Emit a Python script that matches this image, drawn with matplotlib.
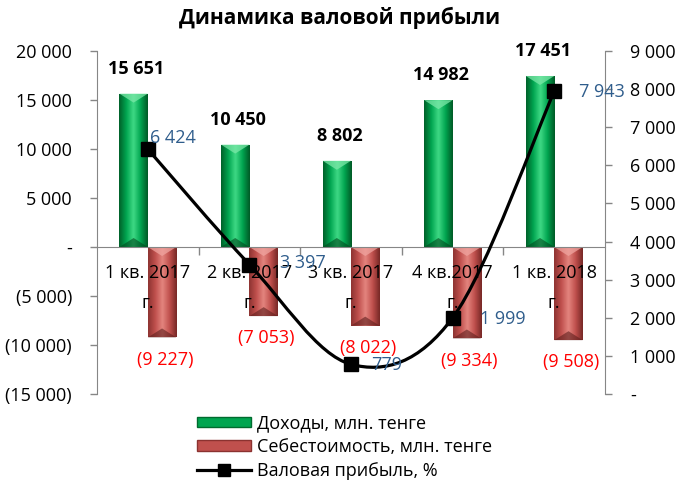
import numpy as np
import matplotlib
matplotlib.use("Agg")
import matplotlib.pyplot as plt
from matplotlib.path import Path
from matplotlib.patches import PathPatch, Patch, Polygon
from matplotlib.lines import Line2D
from matplotlib.colors import LinearSegmentedColormap

plt.rcParams["font.family"] = ["Open Sans", "DejaVu Sans"]

# data
quarter_lines = [("1 кв. 2017", "г."), ("2 кв. 2017", "г."), ("3 кв. 2017", "г."),
                 ("4 кв.2017", "г."), ("1 кв. 2018", "г.")]
revenue = [15651, 10450, 8802, 14982, 17451]
cost = [-9227, -7053, -8022, -9334, -9508]
gross_profit = [6424, 3397, 779, 1999, 7943]

# label offsets for the line values (pixels), tuned by eye
gp_label_offsets = [(2, 11), (31, 2), (20, -1), (27, -1), (25, -1)]

FS = 13
GREY = "#868686"
BLUE = "#2F5D8C"


def fmt_num(v):
    if v == 0:
        return "-"
    s = f"{abs(int(v)):,}".replace(",", " ")
    return f"({s})" if v < 0 else s


def gradient_bars(ax, bars, cmap, light, dark, bevel):
    grad = np.linspace(0, 1, 64).reshape(1, -1)
    for b in bars:
        x0, y0 = b.get_x(), b.get_y()
        w, h = b.get_width(), b.get_height()
        im = ax.imshow(grad, cmap=cmap, aspect="auto", interpolation="bicubic",
                       extent=(x0, x0 + w, y0, y0 + h), zorder=2)
        im.set_clip_path(b)
        top, bot = max(y0, y0 + h), min(y0, y0 + h)
        xc = x0 + w / 2
        ax.add_patch(Polygon([(x0, top), (x0 + w, top), (xc, top - bevel)],
                             closed=True, color=light, alpha=0.75, lw=0, zorder=2.1))
        ax.add_patch(Polygon([(x0, bot), (x0 + w, bot), (xc, bot + bevel)],
                             closed=True, color=dark, alpha=0.6, lw=0, zorder=2.1))


def smooth_path(xs, ys):
    # Excel-like smoothed line: Catmull-Rom segments as cubic Beziers
    pts = np.column_stack([xs, ys]).astype(float)
    n = len(pts)
    verts = [pts[0]]
    codes = [Path.MOVETO]
    for i in range(n - 1):
        p0 = pts[i - 1] if i > 0 else pts[i]
        p1, p2 = pts[i], pts[i + 1]
        p3 = pts[i + 2] if i + 2 < n else pts[i + 1]
        c1 = p1 + (p2 - p0) / 6
        c2 = p2 - (p3 - p1) / 6
        verts += [c1, c2, p2]
        codes += [Path.CURVE4] * 3
    return Path(verts, codes)


fig = plt.figure(figsize=(6.79, 4.88), dpi=100)
ax = fig.add_axes([0.1429, 0.1926, 0.7482, 0.7029])

x = np.arange(len(quarter_lines))
w = 0.28
ax.set_xlim(-0.5, len(x) - 0.5)
ax.set_ylim(-15000, 20000)
bevel = 9 * 35000 / (0.7029 * 488)  # ~9 px in data units

green_cmap = LinearSegmentedColormap.from_list(
    "g", ["#00612A", "#00A550", "#3FD985", "#00A550", "#005A26"])
red_cmap = LinearSegmentedColormap.from_list(
    "r", ["#8E3432", "#C0504D", "#E4857F", "#C0504D", "#772826"])

gbars = ax.bar(x - w / 2, revenue, w, color="#00A550", zorder=1)
rbars = ax.bar(x + w / 2, cost, w, color="#C0504D", zorder=1)
gradient_bars(ax, gbars, green_cmap, "#7CE8A8", "#004A1E", bevel)
gradient_bars(ax, rbars, red_cmap, "#F0A5A0", "#5E1F1D", bevel)

for xi, v in zip(x - w / 2, revenue):
    ax.annotate(fmt_num(v), (xi, v), xytext=(2, 18), textcoords="offset points",
                ha="center", va="center", fontsize=FS, fontweight="bold", color="black")
for xi, v in zip(x + w / 2, cost):
    ax.annotate(fmt_num(v), (xi, v), xytext=(2, -16), textcoords="offset points",
                ha="center", va="center", fontsize=FS, color="red")

ax.set_yticks(np.arange(-15000, 20001, 5000))
ax.set_yticklabels([fmt_num(v) for v in np.arange(-15000, 20001, 5000)], fontsize=FS)
ax.tick_params(axis="y", length=5, width=1, color=GREY, pad=13)

# category axis sits at zero
ax.spines["bottom"].set_position(("data", 0))
ax.spines["bottom"].set_color(GREY)
ax.spines["left"].set_color(GREY)
ax.spines["top"].set_visible(False)
ax.spines["right"].set_visible(False)
ax.set_xticks(np.arange(0.5, len(x) - 0.5, 1))
ax.set_xticklabels([])
ax.tick_params(axis="x", length=6, width=1, color=GREY, direction="out")
for xi, (l1, l2) in zip(x, quarter_lines):
    ax.annotate(l1, (xi, 0), xytext=(0, -19), textcoords="offset points",
                ha="center", va="center", fontsize=FS, zorder=5)
    ax.annotate(l2, (xi, 0), xytext=(0, -40), textcoords="offset points",
                ha="center", va="center", fontsize=FS, zorder=5)

ax2 = ax.twinx()
ax2.set_ylim(0, 9000)
ax2.set_yticks(np.arange(0, 9001, 1000))
ax2.set_yticklabels([fmt_num(v) for v in np.arange(0, 9001, 1000)], fontsize=FS)
ax2.tick_params(axis="y", length=5, width=1, color=GREY, pad=13)
for s in ["top", "bottom", "left"]:
    ax2.spines[s].set_visible(False)
ax2.spines["right"].set_color(GREY)

ax2.add_patch(PathPatch(smooth_path(x, gross_profit), fill=False, lw=2.3,
                        edgecolor="black", zorder=3))
ax2.plot(x, gross_profit, ls="none", marker="s", ms=10, color="black", zorder=4)
for xi, v, (dx, dy) in zip(x, gross_profit, gp_label_offsets):
    ax2.annotate(fmt_num(v), (xi, v), xytext=(dx * 0.72, dy * 0.72), textcoords="offset points",
                 ha="left", va="center", fontsize=FS, color=BLUE, zorder=5)

fig.text(0.5, 0.963, "Динамика валовой прибыли", ha="center", va="center",
         fontsize=15, fontweight="bold")

handles = [Patch(facecolor="#00A550", edgecolor="#006B2E"),
           Patch(facecolor="#C0504D", edgecolor="#8B3230"),
           Line2D([0], [0], color="black", lw=2.3, marker="s", ms=9)]
labels = ["Доходы, млн. тенге", "Себестоимость, млн. тенге", "Валовая прибыль, %"]
fig.legend(handles, labels, loc="upper left", bbox_to_anchor=(0.277, 0.17),
           frameon=False, fontsize=FS, handlelength=3.0, handleheight=0.5,
           labelspacing=0.32, handletextpad=0.3, borderpad=0)

fig.savefig("out.png", dpi=100)
